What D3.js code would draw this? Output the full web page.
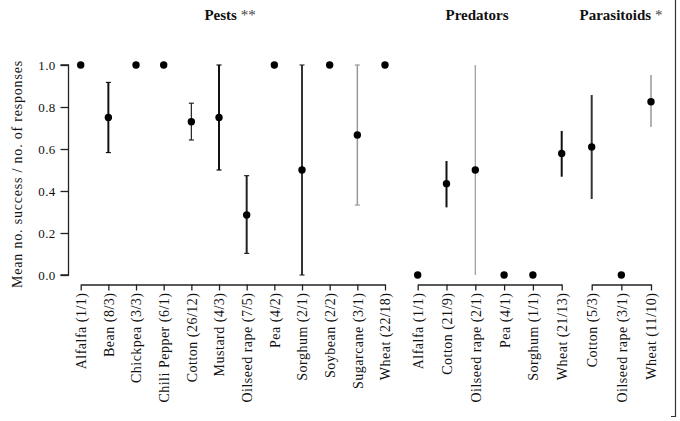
<!DOCTYPE html>
<html lang="en">
<head>
<meta charset="UTF-8">
<title>Success per response</title>
<script src="https://cdn.jsdelivr.net/npm/d3@7"></script>
<style>
  body { margin: 0; background: #fff; }
  svg text { font-family: "Liberation Serif", "DejaVu Serif", serif; fill: #111; }
</style>
</head>
<body>
<svg width="680" height="421"></svg>
<script>
// data
var pestCats = ["Alfalfa (1/1)", "Bean (8/3)", "Chickpea (3/3)", "Chili Pepper (6/1)", "Cotton (26/12)", "Mustard (4/3)",
                "Oilseed rape (7/5)", "Pea (4/2)", "Sorghum (2/1)", "Soybean (2/2)", "Sugarcane (3/1)", "Wheat (22/18)"];
var pestMean = [1, 0.75, 1, 1, 0.73, 0.75, 0.286, 1, 0.5, 1, 0.667, 1];
var pestLow  = [null, 0.583, null, null, 0.643, 0.5, 0.103, null, 0, null, 0.333, null];
var pestHigh = [null, 0.917, null, null, 0.818, 1, 0.473, null, 1, null, 1, null];

var predCats = ["Alfalfa (1/1)", "Cotton (21/9)", "Oilseed rape (2/1)", "Pea (4/1)", "Sorghum (1/1)", "Wheat (21/13)"];
var predMean = [0, 0.435, 0.5, 0, 0, 0.579];
var predLow  = [null, 0.322, 0, null, null, 0.468];
var predHigh = [null, 0.543, 1, null, null, 0.686];

var paraCats = ["Cotton (5/3)", "Oilseed rape (3/1)", "Wheat (11/10)"];
var paraMean = [0.61, 0, 0.825];
var paraLow  = [0.362, null, 0.705];
var paraHigh = [0.857, null, 0.952];

var yTicks = [0, 0.2, 0.4, 0.6, 0.8, 1.0];

// how each error bar is drawn: [stroke, width, caps]
var barLook = {
  "Pests|Bean (8/3)": ["#111", 2, true],
  "Pests|Cotton (26/12)": ["#222", 1.2, true],
  "Pests|Mustard (4/3)": ["#111", 2, true],
  "Pests|Oilseed rape (7/5)": ["#222", 2, true],
  "Pests|Sorghum (2/1)": ["#333", 2, true],
  "Pests|Sugarcane (3/1)": ["#999", 1.5, true],
  "Predators|Cotton (21/9)": ["#111", 2, false],
  "Predators|Oilseed rape (2/1)": ["#999", 1.2, false],
  "Predators|Wheat (21/13)": ["#111", 2, false],
  "Parasitoids|Cotton (5/3)": ["#333", 2, false],
  "Parasitoids|Wheat (11/10)": ["#999", 1.5, false]
};

var groups = [
  { name: "Pests", mark: " **", cats: pestCats, mean: pestMean, low: pestLow, high: pestHigh, range: [80.7, 385], titleX: 230 },
  { name: "Predators", mark: "", cats: predCats, mean: predMean, low: predLow, high: predHigh, range: [417.7, 561.7], titleX: 477 },
  { name: "Parasitoids", mark: " *", cats: paraCats, mean: paraMean, low: paraLow, high: paraHigh, range: [591.7, 651], titleX: 621 }
];

var svg = d3.select("svg");
var axisY = 284.5;

var y = d3.scaleLinear().domain([0, 1]).range([275, 65]);

// y axis
var yAxis = svg.append("g")
  .attr("transform", "translate(68.5,0)")
  .call(d3.axisLeft(y).tickValues(yTicks).tickFormat(d3.format(".1f")).tickSize(8).tickPadding(5));
yAxis.select(".domain").attr("stroke", "#222").attr("stroke-width", 1.3).attr("d", "M-8," + y(0) + "H0V" + y(1) + "H-8");
yAxis.selectAll(".tick line").attr("stroke", "#222").attr("stroke-width", 1.3);
yAxis.selectAll(".tick text").style("font-size", "13px").style("letter-spacing", "0.3px").attr("fill", "#333");

svg.append("text")
  .attr("transform", "translate(22,174) rotate(-90)")
  .attr("text-anchor", "middle")
  .style("font-size", "14px")
  .style("letter-spacing", "0.8px")
  .attr("fill", "#222")
  .text("Mean no. success / no. of responses");

groups.forEach(function (g) {
  var x = d3.scalePoint().domain(g.cats).range(g.range);

  var ax = svg.append("g")
    .attr("transform", "translate(0," + axisY + ")")
    .call(d3.axisBottom(x).tickSize(6).tickSizeOuter(0).tickPadding(8));
  ax.select(".domain").attr("stroke", "#222").attr("stroke-width", 1.3);
  ax.selectAll(".tick line").attr("stroke", "#222").attr("stroke-width", 1.3);
  ax.selectAll(".tick text")
    .style("font-size", "14px")
    .style("letter-spacing", "0.5px")
    .attr("fill", "#222")
    .attr("text-anchor", "end")
    .attr("transform", "rotate(-90)")
    .attr("x", -8)
    .attr("y", 0)
    .attr("dy", "0.35em");

  // title
  var t = svg.append("text")
    .attr("x", g.titleX)
    .attr("y", 19.5)
    .attr("text-anchor", "middle")
    .style("font-size", "15px")
    .style("font-weight", "bold")
    .text(g.name);
  if (g.mark) t.append("tspan").style("font-weight", "normal").attr("fill", "#444").text(g.mark);

  var rows = g.cats.map(function (c, i) {
    return { cat: c, mean: g.mean[i], low: g.low[i], high: g.high[i], look: barLook[g.name + "|" + c] };
  });

  var bars = svg.append("g").selectAll("g")
    .data(rows.filter(function (d) { return d.low !== null; }))
    .join("g");

  bars.append("line")
    .attr("x1", function (d) { return x(d.cat); })
    .attr("x2", function (d) { return x(d.cat); })
    .attr("y1", function (d) { return y(d.low); })
    .attr("y2", function (d) { return y(d.high); })
    .attr("stroke", function (d) { return d.look[0]; })
    .attr("stroke-width", function (d) { return d.look[1]; });

  bars.filter(function (d) { return d.look[2]; })
    .selectAll(".cap")
    .data(function (d) { return [[d, d.low], [d, d.high]]; })
    .join("line")
    .attr("class", "cap")
    .attr("x1", function (p) { return x(p[0].cat) - 2.5; })
    .attr("x2", function (p) { return x(p[0].cat) + 2.5; })
    .attr("y1", function (p) { return y(p[1]); })
    .attr("y2", function (p) { return y(p[1]); })
    .attr("stroke", function (p) { return p[0].look[0]; })
    .attr("stroke-width", 1.2);

  svg.append("g").selectAll("circle")
    .data(rows)
    .join("circle")
    .attr("cx", function (d) { return x(d.cat); })
    .attr("cy", function (d) { return y(d.mean); })
    .attr("r", 3.7)
    .attr("fill", "#000");
});

// frame edge on the right
svg.append("path")
  .attr("d", "M671,416.5H675.5V0")
  .attr("fill", "none")
  .attr("stroke", "#333")
  .attr("stroke-width", 1.2);
</script>
</body>
</html>
